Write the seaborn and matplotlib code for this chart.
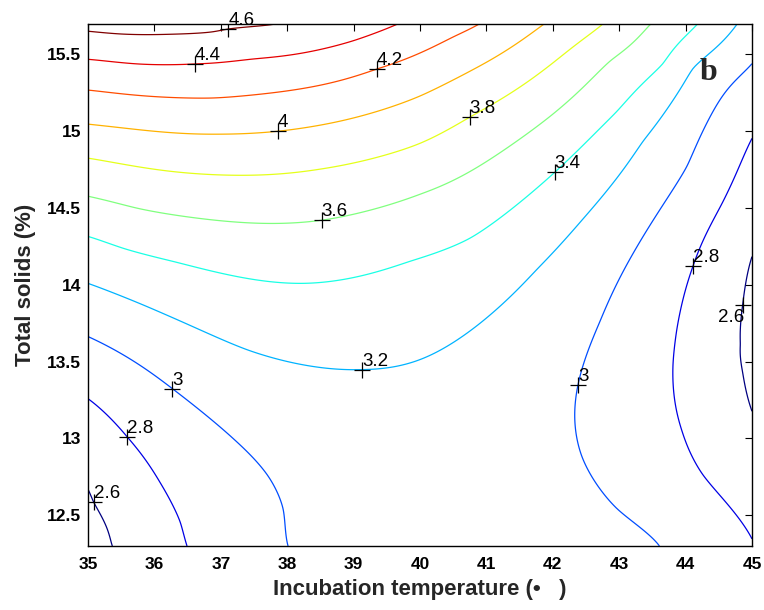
import numpy as np
import matplotlib
matplotlib.use("Agg")
import matplotlib.pyplot as plt
import seaborn as sns

# ---------------- data ----------------
levels = [2.6, 2.8, 3.0, 3.2, 3.4, 3.6, 3.8, 4.0, 4.2, 4.4, 4.6]
x_ticks = [35, 36, 37, 38, 39, 40, 41, 42, 43, 44, 45]
y_ticks = [12.5, 13, 13.5, 14, 14.5, 15, 15.5]

# points along each contour line (temperature, total solids)
c46_x = [35.0, 35.48, 36.23, 36.88, 37.11, 37.74]
c46_y = [15.652, 15.632, 15.63, 15.645, 15.665, 15.691]
c44_x = [35.0, 35.74, 36.61, 37.48, 38.39, 38.99, 39.65]
c44_y = [15.467, 15.437, 15.437, 15.469, 15.521, 15.587, 15.694]
c42_x = [35.0, 36.88, 38.19, 39.35, 40.0, 40.50, 40.87]
c42_y = [15.267, 15.215, 15.274, 15.404, 15.508, 15.613, 15.691]
c40_x = [35.0, 36.99, 37.86, 38.80, 40.0, 41.01, 41.85]
c40_y = [15.045, 14.980, 14.999, 15.065, 15.228, 15.450, 15.691]
c38_x = [35.0, 37.14, 38.49, 40.0, 40.75, 42.0, 42.74]
c38_y = [14.824, 14.713, 14.752, 14.92, 15.091, 15.443, 15.691]
c36_x = [35.0, 35.74, 37.59, 38.52, 40.0, 41.01, 42.0, 42.86, 43.46]
c36_y = [14.576, 14.498, 14.400, 14.420, 14.589, 14.804, 15.110, 15.456, 15.691]
c34_x = [35.0, 35.53, 36.3, 38.24, 39.85, 40.75, 42.03, 42.97, 43.66, 44.17]
c34_y = [14.315, 14.237, 14.15, 14.009, 14.153, 14.302, 14.732, 15.130, 15.437, 15.691]
c32_x = [35.0, 36.13, 37.39, 39.13, 40.0, 40.90, 41.76, 42.45, 43.36, 44.11, 44.77]
c32_y = [14.009, 13.813, 13.578, 13.448, 13.513, 13.748, 14.100, 14.426, 14.935, 15.410, 15.691]
c30a_x = [35.0, 36.27, 37.24, 37.70, 37.94, 38.01]
c30a_y = [13.663, 13.324, 12.978, 12.763, 12.541, 12.3]
c30b_x = [45.0, 44.02, 43.06, 42.71, 42.38, 42.33, 42.44, 42.97, 43.61]
c30b_y = [15.437, 14.77, 14.087, 13.761, 13.35, 13.154, 12.880, 12.541, 12.3]
c28a_x = [35.0, 35.59, 36.08, 36.39, 36.49]
c28a_y = [13.259, 13.010, 12.717, 12.456, 12.3]
c28b_x = [45.0, 44.55, 44.11, 43.87, 43.81, 43.95, 44.26, 44.97]
c28b_y = [14.953, 14.53, 14.119, 13.715, 13.480, 13.043, 12.763, 12.371]
c26a_x = [35.0, 35.08, 35.29, 35.36]
c26a_y = [12.672, 12.587, 12.411, 12.3]
c26b_x = [45.0, 44.86, 44.83, 44.86, 45.0]
c26b_y = [14.185, 13.87, 13.612, 13.43, 13.176]

# estimated values away from the lines
extra_x = [35.0, 45.0, 40.3, 40.5, 45.0, 35.0]
extra_y = [15.7, 15.7, 12.3, 12.8, 13.6, 12.3]
extra_z = [4.67, 3.12, 3.12, 3.12, 2.55, 2.5]

# label anchor positions (where the '+' marks sit)
label_x = [37.11, 36.61, 39.35, 37.86, 40.75, 38.52, 42.03, 39.13, 36.27, 42.38, 35.59, 44.11, 35.08, 44.86]
label_y = [15.665, 15.437, 15.404, 14.999, 15.091, 14.420, 14.732, 13.448, 13.324, 13.35, 13.010, 14.119, 12.587, 13.87]

# ---------------- surface through the read points ----------------
lines = [
    (c46_x, c46_y, 4.6), (c44_x, c44_y, 4.4), (c42_x, c42_y, 4.2),
    (c40_x, c40_y, 4.0), (c38_x, c38_y, 3.8), (c36_x, c36_y, 3.6),
    (c34_x, c34_y, 3.4), (c32_x, c32_y, 3.2), (c30a_x, c30a_y, 3.0),
    (c30b_x, c30b_y, 3.0), (c28a_x, c28a_y, 2.8), (c28b_x, c28b_y, 2.8),
    (c26a_x, c26a_y, 2.6), (c26b_x, c26b_y, 2.6),
]
px, py, pz = [], [], []
for xs, ys, lv in lines:
    px += list(xs); py += list(ys); pz += [lv] * len(xs)
px += extra_x; py += extra_y; pz += extra_z
px = np.array(px); py = np.array(py); pz = np.array(pz)

xmin, xmax, ymin, ymax = 35.0, 45.0, 12.3, 15.7
def scale(x, y):
    return (x - xmin) / (xmax - xmin), (y - ymin) / (ymax - ymin)

u, v = scale(px, py)
def kern(r):
    with np.errstate(divide="ignore", invalid="ignore"):
        k = r ** 2 * np.log(r)
    return np.nan_to_num(k)

n = len(u)
R = np.hypot(u[:, None] - u[None, :], v[:, None] - v[None, :])
K = kern(R) + 2e-4 * np.eye(n)
P = np.column_stack([np.ones(n), u, v])
A = np.block([[K, P], [P.T, np.zeros((3, 3))]])
b = np.concatenate([pz, np.zeros(3)])
sol = np.linalg.solve(A, b)
w, a = sol[:n], sol[n:]

gx = np.linspace(xmin, xmax, 260)
gy = np.linspace(ymin, ymax, 220)
GX, GY = np.meshgrid(gx, gy)
gu, gv = scale(GX.ravel(), GY.ravel())
Rg = np.hypot(gu[:, None] - u[None, :], gv[:, None] - v[None, :])
GZ = (kern(Rg) @ w + a[0] + a[1] * gu + a[2] * gv).reshape(GX.shape)

# MATLAB-style jet colours for the levels
def jet_matlab(t):
    r = np.clip(1.5 - abs(4 * t - 3), 0, 1)
    g = np.clip(1.5 - abs(4 * t - 2), 0, 1)
    bb = np.clip(1.5 - abs(4 * t - 1), 0, 1)
    return (r, g, bb)
line_colors = [jet_matlab((lv - levels[0]) / (levels[-1] - levels[0])) for lv in levels]

# ---------------- plot ----------------
sns.set_theme(style="white")
plt.rcParams["font.family"] = ["Liberation Sans", "DejaVu Sans"]

fig = plt.figure(figsize=(7.64, 6.10), dpi=100)
ax = fig.add_axes([88 / 764, 64 / 610, (752 - 88) / 764, (546 - 23.5) / 610])

cs = ax.contour(GX, GY, GZ, levels=levels, colors=line_colors, linewidths=0.9)

texts = ax.clabel(cs, manual=list(zip(label_x, label_y)), inline=False, fmt="%g")
for t in list(texts):
    x0, y0 = t.get_position()
    s = t.get_text()
    t.set_visible(False)
    ax.plot([x0], [y0], marker="+", color="black", markersize=12, mew=0.9, zorder=5)
    if x0 > 44.7:
        ax.annotate(s, (x0, y0), xytext=(1, -3), textcoords="offset points",
                    ha="right", va="top", fontsize=13.5, color="black")
    else:
        ax.annotate(s, (x0, y0), xytext=(0, 0), textcoords="offset points",
                    ha="left", va="bottom", fontsize=13.5, color="black")

ax.text(44.34, 15.33, "b", fontsize=23, fontweight="bold",
        family=["Liberation Serif", "DejaVu Serif"], ha="center", va="baseline")

ax.set_xlim(xmin, xmax)
ax.set_ylim(ymin, ymax)
ax.set_xticks(x_ticks)
ax.set_yticks(y_ticks)
ax.set_yticklabels([f"{t:g}" for t in y_ticks])
ax.tick_params(direction="in", length=5, width=0.8, top=True, right=True,
               labelsize=12.5, colors="black")
ax.tick_params(axis="x", pad=8)
ax.tick_params(axis="y", pad=5)
for lab in ax.get_xticklabels() + ax.get_yticklabels():
    lab.set_fontweight("bold")
for sp in ax.spines.values():
    sp.set_color("black")
    sp.set_linewidth(1.0)
ax.set_xlabel("Incubation temperature (\u2022   )", fontsize=16, fontweight="bold", labelpad=5)
ax.set_ylabel("Total solids (%)", fontsize=16, fontweight="bold", labelpad=8)
ax.grid(False)

fig.savefig("out.png", dpi=100)
